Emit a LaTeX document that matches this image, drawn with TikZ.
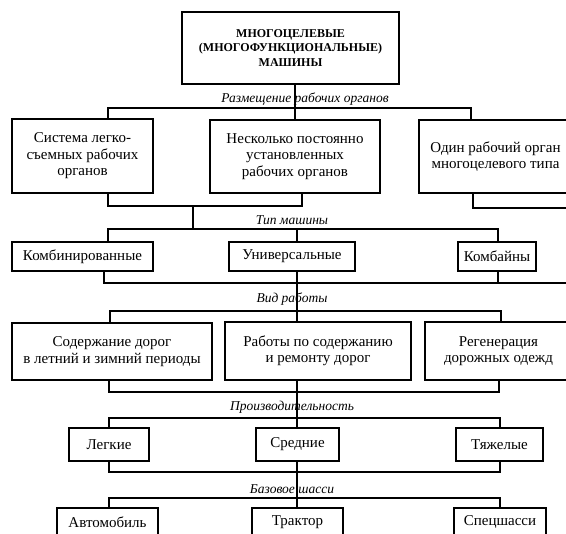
\documentclass[tikz,border=0pt]{standalone}
\usepackage{fontspec}
\setmainfont{Liberation Serif}
\begin{document}
\begin{tikzpicture}[x=1pt,y=-1pt,
  box/.style={draw, line width=1.1pt, align=center, inner sep=0pt,
    font=\fontsize{15}{16.5}\selectfont},
  topbox/.style={box, font=\fontsize{12}{14.5}\selectfont\bfseries},
  lab/.style={inner sep=0pt, font=\fontsize{13.5}{15}\selectfont\itshape},
  conn/.style={line width=1.1pt}]
\useasboundingbox (0,0) rectangle (566,534);
\fill[white] (0,0) rectangle (566,534);
\clip (0,0) rectangle (566,534);

% nodes
\node[topbox, minimum width=217pt, minimum height=72pt] (top) at (290.5,48)
  {МНОГОЦЕЛЕВЫЕ\\(МНОГОФУНКЦИОНАЛЬНЫЕ)\\МАШИНЫ};

\node[box, minimum width=141pt, minimum height=74pt] (r2a) at (82.5,156)
  {Система легко-\\съемных рабочих\\органов};
\node[box, minimum width=170pt, minimum height=73pt] (r2b) at (295,156.5)
  {Несколько постоянно\\установленных\\рабочих органов};
\node[box, minimum width=153pt, minimum height=73pt] (r2c) at (495.5,156.5)
  {Один рабочий орган\\многоцелевого типа};

\node[box, minimum width=141pt, minimum height=29pt] (r3a) at (82.5,256.5) {Комбинированные};
\node[box, minimum width=126pt, minimum height=29pt] (r3b) at (292,256.5) {Универсальные};
\node[box, minimum width=78pt, minimum height=29pt] (r3c) at (497,256.5) {Комбайны};

\node[box, minimum width=200pt, minimum height=57pt] (r4a) at (112,351.5)
  {Содержание дорог\\в летний и зимний периоды};
\node[box, minimum width=186pt, minimum height=58pt] (r4b) at (318,351)
  {Работы по содержанию\\и ремонту дорог};
\node[box, minimum width=147pt, minimum height=58pt] (r4c) at (498.5,351)
  {Регенерация\\дорожных одежд};

\node[box, minimum width=80pt, minimum height=33pt] (r5a) at (109,444.5) {Легкие};
\node[box, minimum width=83pt, minimum height=33pt] (r5b) at (297.5,444.5) {Средние};
\node[box, minimum width=87pt, minimum height=33pt] (r5c) at (499.5,444.5) {Тяжелые};

\node[box, minimum width=101pt, minimum height=28pt] (r6a) at (107.5,522) {Автомобиль};
\node[box, minimum width=91pt, minimum height=28pt] (r6b) at (297.5,522) {Трактор};
\node[box, minimum width=92pt, minimum height=28pt] (r6c) at (500,522) {Спецшасси};

% labels
\node[lab] (l1) at (305,99) {Размещение рабочих органов};
\node[lab] (l2) at (292,220) {Тип машины};
\node[lab] (l3) at (292,299) {Вид работы};
\node[lab] (l4) at (292,407) {Производительность};
\node[lab] (l5) at (292,489) {Базовое шасси};

% coordinates
\coordinate (b2L) at (108,108);
\coordinate (b2R) at (471,108);
\coordinate (c2a) at (108,206);
\coordinate (c2b) at (302,206);
\coordinate (c2c) at (473,208);
\coordinate (e2) at (570,208);
\coordinate (j2) at (193,206);
\coordinate (b3L) at (108,229);
\coordinate (b3R) at (498,229);
\coordinate (v3) at (297,229);
\coordinate (c3a) at (104,283);
\coordinate (c3c) at (498,283);
\coordinate (e3) at (570,283);
\coordinate (b4L) at (110,311);
\coordinate (b4R) at (501,311);
\coordinate (c4a) at (109,392);
\coordinate (c4c) at (499,392);
\coordinate (b5L) at (109,418);
\coordinate (b5R) at (500,418);
\coordinate (c5a) at (109,472);
\coordinate (c5c) at (500,472);
\coordinate (b6L) at (109,498);
\coordinate (b6R) at (500,498);

% connectors
\draw[conn] (top.south -| r2b.north) -- (r2b.north);
\draw[conn] (r2a.north -| b2L) -- (b2L) -- (b2R) -- (r2c.north -| b2R);

\draw[conn] (r2a.south -| c2a) -- (c2a) -- (c2b) -- (r2b.south -| c2b);
\draw[conn] (r2c.south -| c2c) -- (c2c) -- (e2);
\draw[conn] (j2) -- (j2 |- b3L);
\draw[conn] (r3a.north -| b3L) -- (b3L) -- (b3R) -- (r3c.north -| b3R);
\draw[conn] (v3) -- (v3 |- r3b.north);

\draw[conn] (r3a.south -| c3a) -- (c3a) -- (e3);
\draw[conn] (r3c.south -| c3c) -- (c3c);
\draw[conn] (r3b.south -| v3) -- (v3 |- r4b.north);
\draw[conn] (r4a.north -| b4L) -- (b4L) -- (b4R) -- (r4c.north -| b4R);

\draw[conn] (r4a.south -| c4a) -- (c4a) -- (c4c) -- (r4c.south -| c4c);
\draw[conn] (r4b.south -| v3) -- (v3 |- r5b.north);
\draw[conn] (r5a.north -| b5L) -- (b5L) -- (b5R) -- (r5c.north -| b5R);

\draw[conn] (r5a.south -| c5a) -- (c5a) -- (c5c) -- (r5c.south -| c5c);
\draw[conn] (r5b.south -| v3) -- (v3 |- r6b.north);
\draw[conn] (r6a.north -| b6L) -- (b6L) -- (b6R) -- (r6c.north -| b6R);
\end{tikzpicture}
\end{document}
